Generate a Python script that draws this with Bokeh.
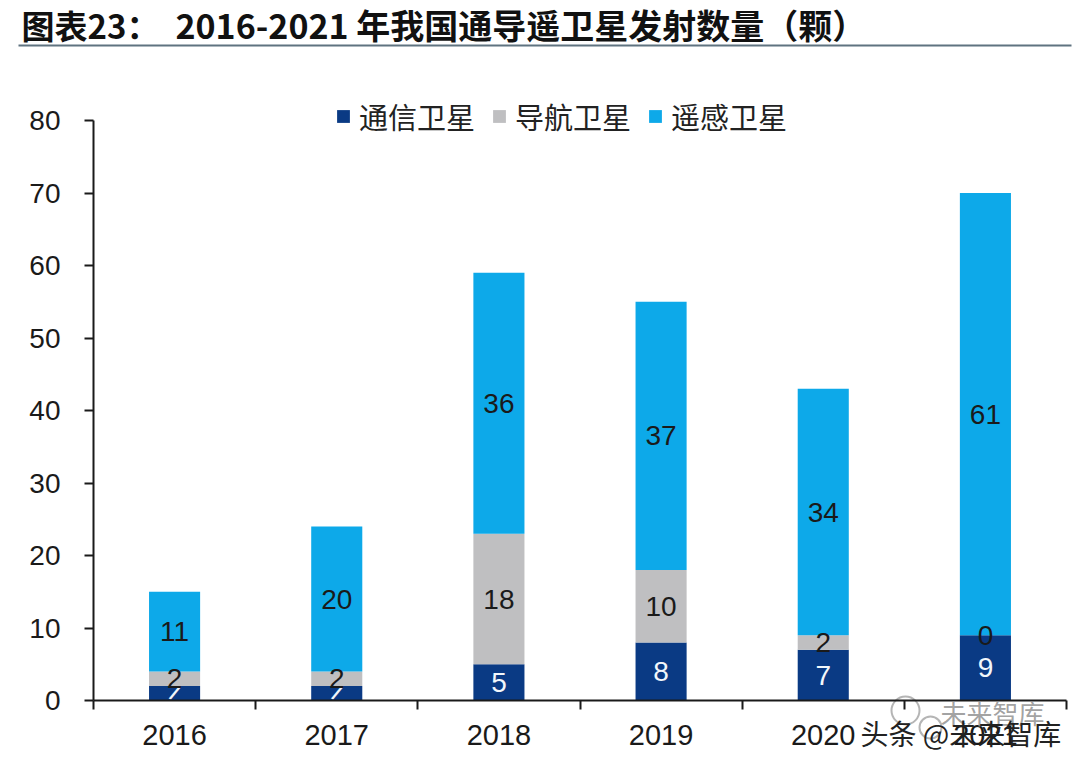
from bokeh.plotting import figure
from bokeh.models import (BoxAnnotation, ColumnDataSource, FixedTicker, Label, Legend,
                          LegendItem, Range1d)
from bokeh.core.properties import value
from bokeh.embed import file_html
from bokeh.resources import INLINE

# ---- data ----
years = ["2016", "2017", "2018", "2019", "2020", "2021"]
comm = [2, 2, 5, 8, 7, 9]
nav = [2, 2, 18, 10, 2, 0]
remote = [11, 20, 36, 37, 34, 61]
comm_labels = ["/", "/", "5", "8", "7", "9"]
nav_labels = ["2", "2", "18", "10", "2", "0"]
remote_labels = ["11", "20", "36", "37", "34", "61"]
series_names = ["通信卫星", "导航卫星", "遥感卫星"]
y_ticks = [0, 10, 20, 30, 40, 50, 60, 70, 80]
title_prefix = "图表23："
title_main = "2016-2021 年我国通导遥卫星发射数量（颗）"
watermark_main = "头条 @未来智库"
watermark_faint = "未来智库"

NAVY, GREY, BLUE = "#0A3A84", "#BFBFC1", "#0DA9E9"
INK = "#1A1A1A"
LATIN = "Liberation Sans"
CJK = "Noto Sans CJK SC"

W, H = 1072, 760
X0, X1, Y0, Y80 = 93, 1066, 700, 120
ppx = (X1 - X0) / 6
ppy = (Y0 - Y80) / 80


def px(v):
    return (v - X0) / ppx


def py(v):
    return (Y0 - v) / ppy


p = figure(width=W, height=H, output_backend="svg", toolbar_location=None,
           x_range=Range1d(px(0), px(W)), y_range=Range1d(py(H), py(0)),
           min_border=0, outline_line_color=None)
p.grid.visible = False

centers = [i + 0.5 for i in range(len(years))]
src = ColumnDataSource(dict(x=centers, comm=comm, nav=nav, remote=remote))
rs = p.vbar_stack(["comm", "nav", "remote"], x="x", width=0.315, source=src,
                  color=[NAVY, GREY, BLUE], line_width=0)

base_rem = [c + n for c, n in zip(comm, nav)]
comm_y = [c / 2 for c in comm]
nav_y = [b + n / 2 if n else b for b, n in zip(comm, nav)]
rem_y = [b + r / 2 for b, r in zip(base_rem, remote)]

# value labels (the two smallest navy labels survive only as a white slash)
big = [i for i, t in enumerate(comm_labels) if t != "/"]
small = [i for i, t in enumerate(comm_labels) if t == "/"]
p.text(x=[centers[i] for i in big], y=[comm_y[i] for i in big], text=[comm_labels[i] for i in big],
       text_align="center", text_baseline="middle", text_font=value(LATIN),
       text_font_size="28px", text_color="#F2F7FB")
p.text(x=[centers[i] for i in small], y=[comm_y[i] for i in small],
       text=[comm_labels[i] for i in small], angle=-0.5,
       text_align="center", text_baseline="middle", text_font=value(LATIN),
       text_font_size="20px", text_font_style="bold", text_color="#F2F7FB")
for ys, labels in [(nav_y, nav_labels), (rem_y, remote_labels)]:
    p.text(x=centers, y=ys, text=labels, text_align="center", text_baseline="middle",
           text_font=value(LATIN), text_font_size="28px", text_color=INK)

# axes inside the full-canvas frame
xa = p.xaxis[0]
xa.fixed_location = 0
xa.bounds = (0, 6)
xa.ticker = FixedTicker(ticks=centers, minor_ticks=list(range(len(years) + 1)))
xa.major_label_overrides = {c: y for c, y in zip(centers, years)}
xa.major_tick_line_color = None
xa.major_tick_out = 0
xa.major_tick_in = 0
xa.minor_tick_out = 9
xa.minor_tick_in = 0
xa.minor_tick_line_color = INK
xa.minor_tick_line_width = 2
xa.axis_line_color = INK
xa.axis_line_width = 2
xa.major_label_standoff = 15
xa.major_label_text_font = LATIN
xa.major_label_text_font_size = "29px"
xa.major_label_text_color = INK

ya = p.yaxis[0]
ya.fixed_location = 0
ya.bounds = (0, 80)
ya.ticker = FixedTicker(ticks=y_ticks)
ya.major_tick_out = 9
ya.major_tick_in = 0
ya.minor_tick_line_color = None
ya.major_tick_line_color = INK
ya.major_tick_line_width = 2
ya.axis_line_color = INK
ya.axis_line_width = 2
ya.major_label_standoff = 24
ya.major_label_text_font = LATIN
ya.major_label_text_font_size = "28px"
ya.major_label_text_color = INK

# legend
legend = Legend(items=[LegendItem(label=value(n), renderers=[r]) for n, r in zip(series_names, rs)],
                orientation="horizontal", location=(335, H - 137),
                glyph_width=16, glyph_height=16, label_standoff=8, spacing=16,
                padding=0, margin=0, border_line_color=None, background_fill_alpha=0,
                label_text_font=CJK, label_text_font_size="29px", label_text_color="#222222")
p.add_layout(legend)

# title and rule
p.add_layout(Label(x=px(21), y=py(24), text=title_prefix, text_font=CJK, text_font_style="bold",
                   text_font_size="33px", text_color="#111111", text_baseline="middle"))
p.add_layout(Label(x=px(175), y=py(24), text=title_main, text_font=CJK, text_font_style="bold",
                   text_font_size="34px", text_color="#111111", text_baseline="middle"))
p.add_layout(BoxAnnotation(left=px(18), right=px(1071), top=py(44), bottom=py(46),
                           fill_color="#5F7380", fill_alpha=1, line_color=None))

# watermark
p.scatter(x=[px(905), px(930)], y=[py(710), py(727)], size=[28, 22], marker="circle",
          fill_color="white", fill_alpha=0.6, line_color="#B5B5B5", line_width=2)
p.add_layout(Label(x=px(940), y=py(712), text=watermark_faint, text_font=CJK, text_font_size="26px",
                   text_color="#8A8A8A", text_alpha=0.8, text_baseline="middle"))
p.add_layout(Label(x=px(860), y=py(732), text=watermark_main, text_font=CJK, text_font_size="28px",
                   text_color="#222222", text_baseline="middle"))

open("out.html", "w").write(file_html(p, INLINE))
